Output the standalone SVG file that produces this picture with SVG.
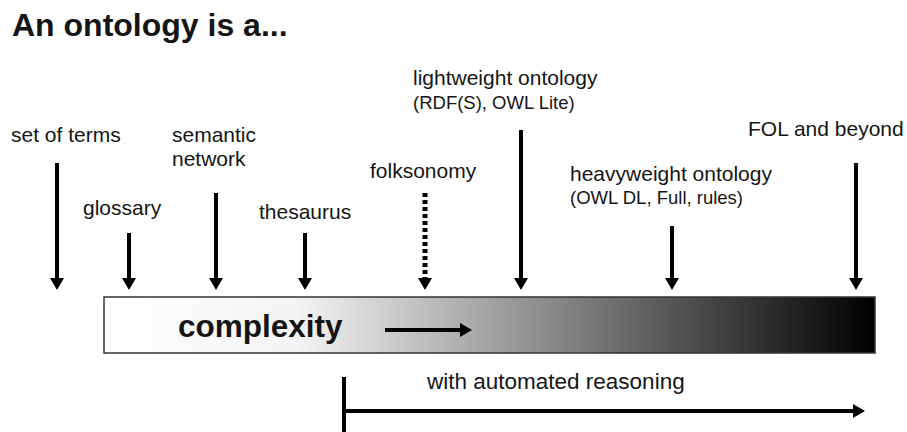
<svg xmlns="http://www.w3.org/2000/svg" width="907" height="432" viewBox="0 0 907 432">
  <style>
    text { font-family: "Liberation Sans", Arial, Helvetica, sans-serif; fill: #151515; }
    .title { font-size: 32px; font-weight: bold; }
    .lbl { font-size: 21px; }
    .sub { font-size: 18.5px; }
    .big { font-size: 31.5px; font-weight: bold; }
    .note { font-size: 22.5px; }
    .arrow { stroke: #000; stroke-width: 4; fill: none; marker-end: url(#head); }
    .dashed { stroke-dasharray: 4 3; stroke-width: 5; }
  </style>
  <defs>
    <marker id="head" viewBox="0 0 12 14" refX="1" refY="7" markerWidth="12" markerHeight="14" markerUnits="userSpaceOnUse" orient="auto">
      <path d="M0,0 L12,7 L0,14 Z" fill="#000"/>
    </marker>
    <linearGradient id="grad" x1="0" y1="0" x2="1" y2="0">
      <stop offset="0" stop-color="#ffffff"/>
      <stop offset="0.25" stop-color="#f4f4f4"/>
      <stop offset="1" stop-color="#000000"/>
    </linearGradient>
  </defs>

  <rect width="907" height="432" fill="#fff"/>

  <text class="title" x="12" y="36">An ontology is a...</text>

  <!-- complexity scale -->
  <g id="scale">
    <rect x="104" y="297" width="771" height="56" fill="url(#grad)" stroke="#333" stroke-width="1.5"/>
    <text class="big" x="178" y="337">complexity</text>
    <line class="arrow" x1="385" y1="330" x2="461" y2="330"/>
  </g>

  <!-- labels -->
  <g id="set-of-terms"><text class="lbl" x="11" y="142">set of terms</text></g>
  <g id="glossary"><text class="lbl" x="83" y="215">glossary</text></g>
  <g id="semantic-network">
    <text class="lbl" x="172" y="142">semantic</text>
    <text class="lbl" x="172" y="166">network</text>
  </g>
  <g id="thesaurus"><text class="lbl" x="259" y="219">thesaurus</text></g>
  <g id="folksonomy"><text class="lbl" x="370" y="178">folksonomy</text></g>
  <g id="lightweight">
    <text class="lbl" x="413" y="85">lightweight ontology</text>
    <text class="sub" x="413" y="109">(RDF(S), OWL Lite)</text>
  </g>
  <g id="heavyweight">
    <text class="lbl" x="570" y="181">heavyweight ontology</text>
    <text class="sub" x="570" y="204">(OWL DL, Full, rules)</text>
  </g>
  <g id="fol"><text class="lbl" x="748" y="136" font-size="20.5">FOL and beyond</text></g>

  <!-- pointers onto the scale -->
  <g id="connectors">
    <line class="arrow" x1="57" y1="163" x2="57" y2="279"/>
    <line class="arrow" x1="129" y1="233" x2="129" y2="279"/>
    <line class="arrow" x1="216" y1="193" x2="216" y2="279"/>
    <line class="arrow" x1="305" y1="233" x2="305" y2="279"/>
    <line class="arrow dashed" x1="425" y1="193" x2="425" y2="279"/>
    <line class="arrow" x1="521" y1="130" x2="521" y2="279"/>
    <line class="arrow" x1="672" y1="226" x2="672" y2="279"/>
    <line class="arrow" x1="856" y1="163" x2="856" y2="279"/>
  </g>

  <!-- automated reasoning range -->
  <g id="reasoning">
    <line x1="344" y1="377" x2="344" y2="432" stroke="#000" stroke-width="4"/>
    <line class="arrow" x1="344" y1="411" x2="854" y2="411"/>
    <text class="note" x="427" y="389">with automated reasoning</text>
  </g>
</svg>
